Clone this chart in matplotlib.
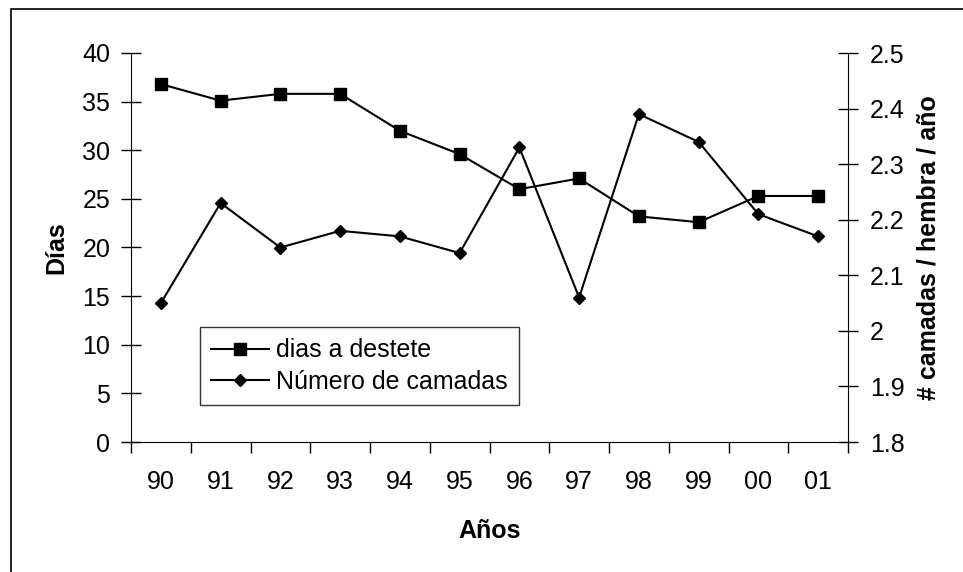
import matplotlib
matplotlib.use('Agg')
import matplotlib.pyplot as plt
from matplotlib.lines import Line2D
import numpy as np

plt.rcParams['font.family'] = ['Liberation Sans', 'DejaVu Sans']

years = ['90', '91', '92', '93', '94', '95', '96', '97', '98', '99', '00', '01']
dias_destete = [36.8, 35.1, 35.8, 35.8, 32.0, 29.6, 26.0, 27.1, 23.2, 22.6, 25.3, 25.3]
num_camadas = [2.05, 2.23, 2.15, 2.18, 2.17, 2.14, 2.33, 2.06, 2.39, 2.34, 2.21, 2.17]

FS = 18
W, H = 963, 572
fig = plt.figure(figsize=(W / 100, H / 100), dpi=100)
# outer frame (only top and left edges show in the original)
fig.lines.append(Line2D([11 / W, 11 / W, 1], [0, 1 - 9 / H, 1 - 9 / H],
                        transform=fig.transFigure, color='black', lw=1.2))

ax = fig.add_axes([131 / W, 1 - 442 / H, 717 / W, 389 / H])
ax2 = ax.twinx()
x = np.arange(len(years))

l1, = ax.plot(x, dias_destete, color='black', lw=1.5, marker='s', ms=8)
l2, = ax2.plot(x, num_camadas, color='black', lw=1.5, marker='D', ms=6)

ax.set_xlim(-0.5, len(years) - 0.5)
ax.set_ylim(0, 40)
ax.set_yticks(range(0, 41, 5))
ticks2 = np.arange(1.8, 2.51, 0.1)
ax2.set_ylim(1.8, 2.5)
ax2.set_yticks(ticks2)
ax2.set_yticklabels(['%g' % round(v, 1) for v in ticks2])

# category ticks sit between the years, labels centred in each slot
ax.set_xticks(np.arange(-0.5, len(years), 1.0))
ax.set_xticklabels([])
ax.set_xticks(x, minor=True)
ax.set_xticklabels(years, minor=True)
ax.tick_params(axis='x', which='major', direction='out', length=8, width=1)
ax.tick_params(axis='x', which='minor', length=0, pad=20, labelsize=FS)
ax.tick_params(axis='y', direction='inout', length=14, width=1, labelsize=FS, pad=8)
ax2.tick_params(axis='y', direction='inout', length=14, width=1, labelsize=FS, pad=9)

for a in (ax, ax2):
    a.spines['top'].set_visible(False)
ax.spines['right'].set_visible(False)
ax2.spines['left'].set_visible(False)
ax2.spines['bottom'].set_visible(False)

ax.set_ylabel('Días', fontsize=FS, fontweight='bold', labelpad=10)
ax2.set_ylabel('# camadas / hembra / año', fontsize=FS, fontweight='bold', labelpad=8)
ax.set_xlabel('Años', fontsize=FS, fontweight='bold', labelpad=18)

leg = ax.legend([l1, l2], ['dias a destete', 'Número de camadas'], loc='upper left',
                bbox_to_anchor=((200 - 131) / 717, (442 - 327) / 389), fontsize=FS,
                frameon=True, fancybox=False, edgecolor='black', handlelength=2.3,
                handletextpad=0.3, borderpad=0.45, labelspacing=0.3, borderaxespad=0)
leg.get_frame().set_linewidth(1.0)

fig.savefig('out.png', dpi=100)
